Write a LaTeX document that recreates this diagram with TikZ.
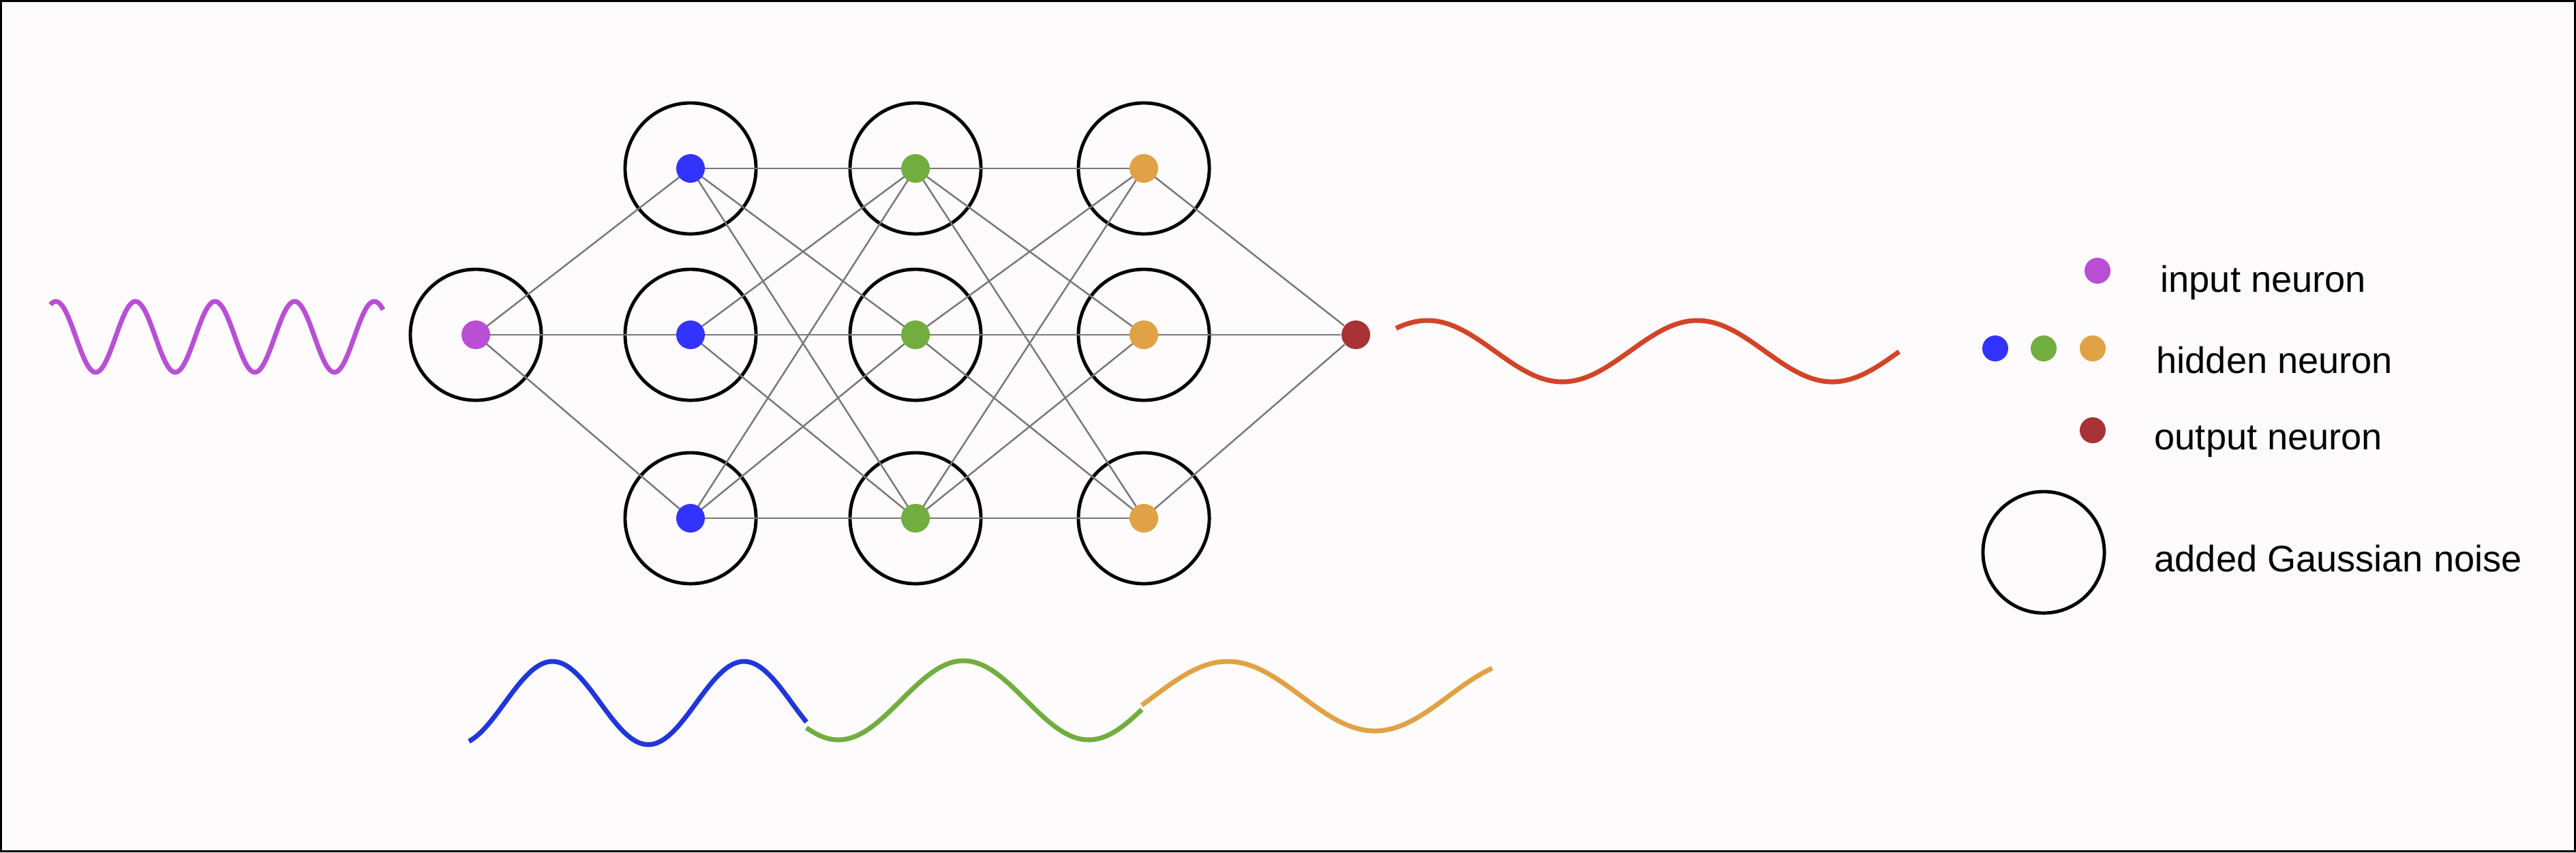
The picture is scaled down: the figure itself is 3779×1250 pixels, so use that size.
\documentclass[tikz,border=0pt]{standalone}
\usepackage{fontspec}
\setmainfont{Liberation Sans}
\usepackage{tikz}
\definecolor{inpurple}{RGB}{184,79,212}
\definecolor{hidblue}{RGB}{51,51,255}
\definecolor{waveblue}{RGB}{32,54,216}
\definecolor{hidgreen}{RGB}{114,173,63}
\definecolor{hidorange}{RGB}{224,162,69}
\definecolor{outred}{RGB}{168,50,53}
\definecolor{wavered}{RGB}{210,68,40}
\definecolor{paper}{RGB}{253,251,252}
\definecolor{linkgray}{RGB}{120,120,120}

\begin{document}
\begin{tikzpicture}[x=0.01cm,y=-0.01cm,
    noise/.style={draw,circle,line width=1.4pt,minimum size=1.92cm,inner sep=0pt},
    neuron/.style={circle,inner sep=0pt,minimum size=0.42cm},
    link/.style={draw=linkgray,line width=0.7pt},
    wave/.style={line width=2pt,smooth,samples=200},
    lbl/.style={anchor=base west,inner sep=0pt,font=\fontsize{15.4}{18}\selectfont}]
    \useasboundingbox (0,0) rectangle (3779,1250);
    \fill[paper] (0,0) rectangle (3779,1250);
    \draw[line width=0.75pt] (1.5,1.5) rectangle (3777.5,1248.5);

    % noise circles
    \node[noise] (c0) at (698,491) {};
    \foreach \x [count=\i] in {1013,1343,1678}
      \foreach \y [count=\j] in {247,491,760}
        \node[noise] (c\i\j) at (\x,\y) {};
    \node[neuron,fill=outred] (out) at (1989,491) {};

    % weights
    \foreach \j in {1,2,3}
      \draw[link] (c0.center) -- (c1\j.center);
    \foreach \i/\k in {1/2,2/3}
      \foreach \j in {1,2,3}
        \foreach \l in {1,2,3}
          \draw[link] (c\i\j.center) -- (c\k\l.center);
    \foreach \j in {1,2,3}
      \draw[link] (c3\j.center) -- (out);

    % neurons
    \node[neuron,fill=inpurple] (d0) at (c0) {};
    \foreach \i/\col in {1/hidblue,2/hidgreen,3/hidorange}
      \foreach \j in {1,2,3}
        \node[neuron,fill=\col] (d\i\j) at (c\i\j) {};

    % signals
    \draw[wave,inpurple,domain=74:562] plot (\x,{494-52*cos((\x-82)/116.75*360)});
    \draw[wave,wavered,domain=2048:2786] plot (\x,{515-45*cos((\x-2094)/396*360)});
    \draw[wave,waveblue,domain=688:1183] plot (\x,{1031+61*cos((\x-951)/281*360)});
    \draw[wave,hidgreen,domain=1183:1675] plot (\x,{1027+58*cos((\x-1230)/367*360)});
    \draw[wave,hidorange,domain=1675:2189] plot (\x,{1021-51*cos((\x-1801)/432*360)});

    % legend
    \node[neuron,minimum size=0.38cm,fill=inpurple] (kin) at (3077,397) {};
    \node[neuron,minimum size=0.38cm,fill=hidblue] (kb) at (2927,511) {};
    \node[neuron,minimum size=0.38cm,fill=hidgreen] (kg) at (2998,511) {};
    \node[neuron,minimum size=0.38cm,fill=hidorange] (ko) at (3070,511) {};
    \node[neuron,minimum size=0.38cm,fill=outred] (kout) at (3070,631) {};
    \node[noise,minimum size=1.78cm] (knoise) at (2998,810) {};
    \node[lbl] (tin) at (3169,428) {input neuron};
    \node[lbl] (thid) at (3163,547) {hidden neuron};
    \node[lbl] (tout) at (3160,659) {output neuron};
    \node[lbl] (tnoise) at (3160,838) {added Gaussian noise};
\end{tikzpicture}
\end{document}
